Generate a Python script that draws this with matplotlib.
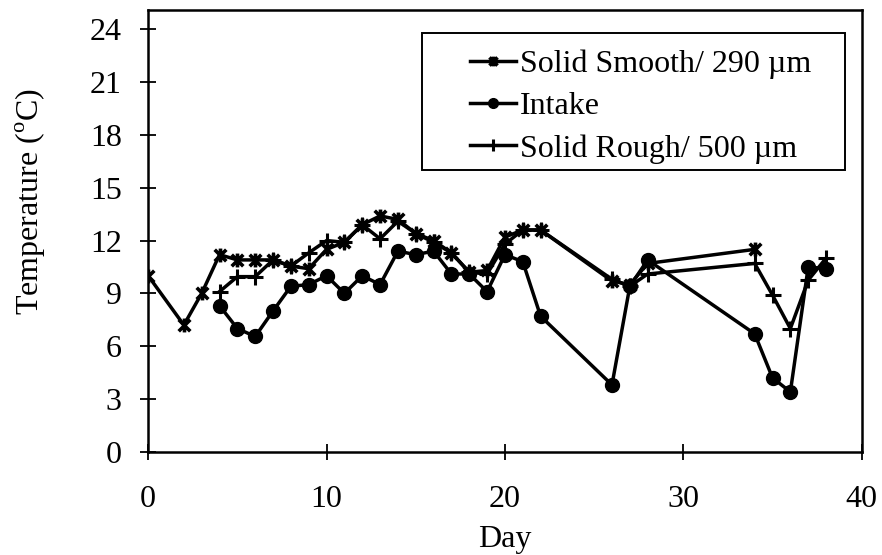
import matplotlib
matplotlib.use('Agg')
import matplotlib.pyplot as plt
from matplotlib.patches import Rectangle
from matplotlib.path import Path

# Times-like serif everywhere, including the superscript in the axis label
plt.rcParams['font.family'] = 'Liberation Serif'
plt.rcParams['mathtext.fontset'] = 'custom'
plt.rcParams['mathtext.rm'] = 'Liberation Serif'

# Solid Smooth / 290 um
smooth_day = [0, 2, 3, 4, 5, 6, 7, 8, 9, 10, 11, 12, 13, 14, 15, 16, 17, 18, 19,
              20, 21, 22, 26, 27, 28, 34]
smooth_temp = [10.0, 7.2, 9.0, 11.2, 10.9, 10.9, 10.9, 10.55, 10.4, 11.5, 11.9, 12.9,
               13.4, 13.2, 12.4, 12.0, 11.3, 10.2, 10.3, 12.2, 12.6, 12.6, 9.7, 9.5,
               10.7, 11.5]

# Intake
intake_day = [4, 5, 6, 7, 8, 9, 10, 11, 12, 13, 14, 15, 16, 17, 18, 19, 20, 21, 22,
              26, 27, 28, 34, 35, 36, 37, 38]
intake_temp = [8.3, 7.0, 6.55, 8.0, 9.4, 9.5, 10.0, 9.0, 10.0, 9.5, 11.4, 11.2, 11.4,
               10.1, 10.1, 9.1, 11.2, 10.8, 7.7, 3.8, 9.4, 10.9, 6.7, 4.2, 3.4, 10.5,
               10.4]

# Solid Rough / 500 um
rough_day = [4, 5, 6, 7, 8, 9, 10, 11, 12, 13, 14, 15, 16, 17, 18, 19, 20, 21, 22,
             26, 27, 28, 34, 35, 36, 37, 38]
rough_temp = [9.1, 9.95, 9.95, 10.9, 10.55, 11.3, 12.0, 11.9, 12.9, 12.1, 13.1, 12.4,
              11.9, 11.3, 10.2, 10.1, 11.8, 12.6, 12.6, 9.8, 9.4, 10.1, 10.7, 8.9, 7.0,
              9.75, 11.0]

x_ticks = [0, 10, 20, 30, 40]
y_ticks = [0, 3, 6, 9, 12, 15, 18, 21, 24]

# spreadsheet-style star: an x crossed by a vertical bar
star = Path([(-1, -1), (1, 1), (-1, 1), (1, -1), (0, -1.2), (0, 1.2)],
            [Path.MOVETO, Path.LINETO, Path.MOVETO, Path.LINETO,
             Path.MOVETO, Path.LINETO])

fig = plt.figure(figsize=(8.82, 5.55), dpi=100)
ax = fig.add_axes([0.168, 0.186, 0.809, 0.796])

ax.plot(smooth_day, smooth_temp, color='black', lw=2.5,
        marker=star, ms=10, mew=2.6, label='Solid Smooth/ 290 µm')
ax.plot(intake_day, intake_temp, color='black', lw=2.5,
        marker='o', ms=10, label='Intake')
ax.plot(rough_day, rough_temp, color='black', lw=2.5,
        marker='+', ms=12, mew=2.2, label='Solid Rough/ 500 µm')

ax.set_xlim(0, 40)
ax.set_ylim(0, 25.1)
ax.set_xticks(x_ticks)
ax.set_yticks(y_ticks)
ax.tick_params(axis='both', direction='inout', length=12, width=1.3,
               labelsize=23, colors='black')
ax.tick_params(axis='y', pad=13)
ax.tick_params(axis='x', pad=18)
for spine in ax.spines.values():
    spine.set_linewidth(1.8)

ax.set_xlabel('Day', fontsize=23, labelpad=8)
ax.set_ylabel('Temperature ($^\\mathrm{o}$C)', fontsize=23)
ax.yaxis.set_label_coords(-0.14, 0.566)

# legend entries without their own frame; the box is drawn separately
leg = ax.legend(loc='upper left', bbox_to_anchor=(0.451, 0.91), fontsize=23,
                frameon=False, handlelength=1.45, handletextpad=0.12,
                labelspacing=0.4, borderpad=0, borderaxespad=0,
                markerscale=0.7)
ax.add_patch(Rectangle((0.384, 0.638), 0.592, 0.31, transform=ax.transAxes,
                       fill=False, edgecolor='black', lw=1.4, zorder=5))

fig.savefig('out.png', dpi=100)
